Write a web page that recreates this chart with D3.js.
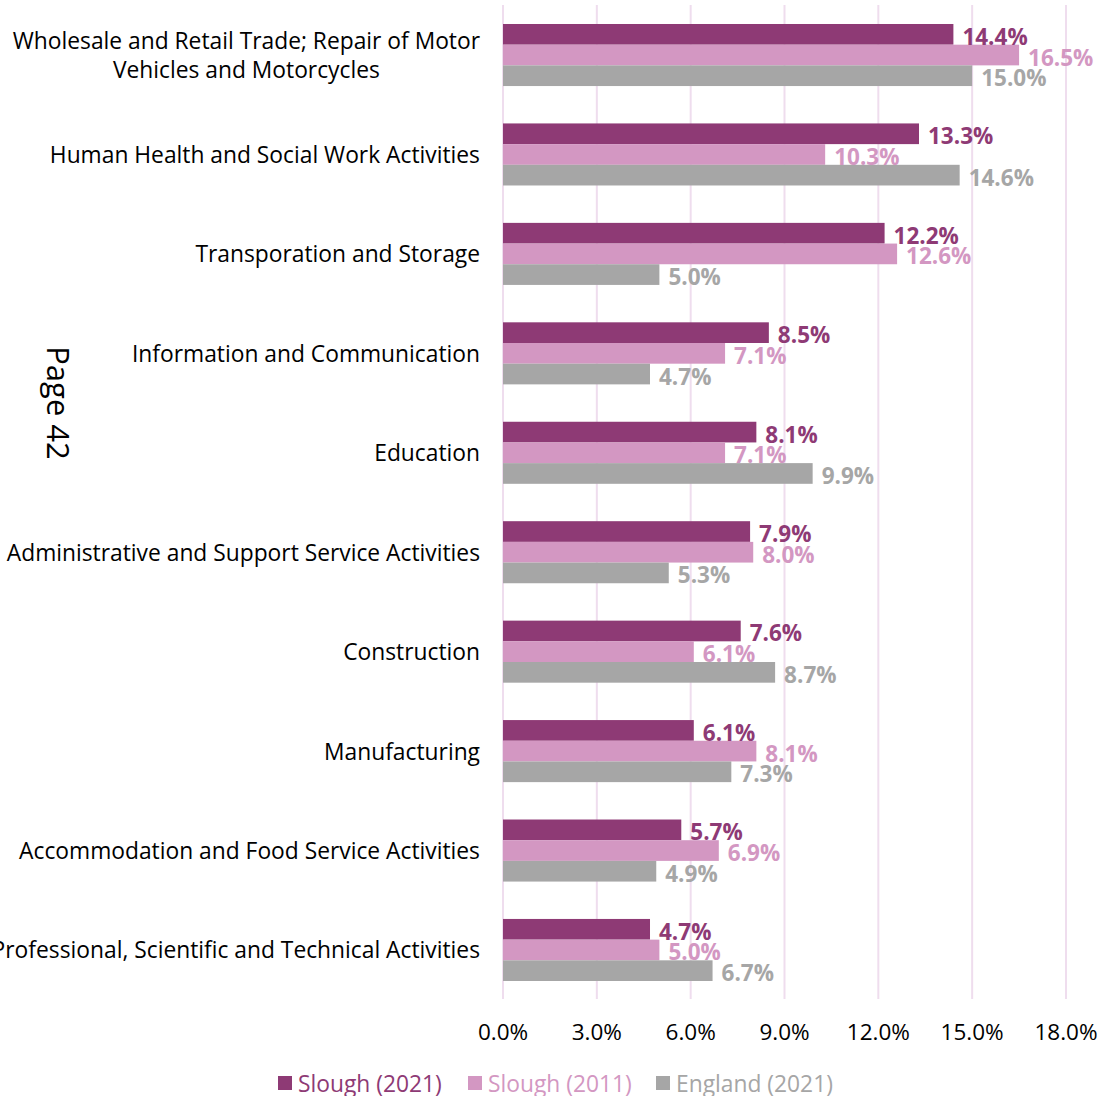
<!DOCTYPE html>
<html>
<head>
<meta charset="utf-8">
<script src="https://cdn.jsdelivr.net/npm/d3@7"></script>
<style>
  html, body { margin: 0; padding: 0; background: #fff; }
  svg { display: block; }
  text { font-family: "Open Sans", "Noto Sans", sans-serif; }
</style>
</head>
<body>
<svg id="chart" width="1100" height="1096"></svg>
<script>
// Industry categories (top to bottom)
const categories = [
  ["Wholesale and Retail Trade; Repair of Motor", "Vehicles and Motorcycles"],
  ["Human Health and Social Work Activities"],
  ["Transporation and Storage"],
  ["Information and Communication"],
  ["Education"],
  ["Administrative and Support Service Activities"],
  ["Construction"],
  ["Manufacturing"],
  ["Accommodation and Food Service Activities"],
  ["Professional, Scientific and Technical Activities"]
];
const seriesNames = ["Slough (2021)", "Slough (2011)", "England (2021)"];
const slough2021 = [14.4, 13.3, 12.2, 8.5, 8.1, 7.9, 7.6, 6.1, 5.7, 4.7];
const slough2011 = [16.5, 10.3, 12.6, 7.1, 7.1, 8.0, 6.1, 8.1, 6.9, 5.0];
const england2021 = [15.0, 14.6, 5.0, 4.7, 9.9, 5.3, 8.7, 7.3, 4.9, 6.7];
const tickValues = [0, 3, 6, 9, 12, 15, 18];
const colors = ["#8E3A75", "#D397C2", "#A6A6A6"];

const series = [slough2021, slough2011, england2021];
const keys = categories.map((c, i) => i);

const svg = d3.select("#chart");

const x = d3.scaleLinear().domain([0, 18]).range([503, 1066]);
const y = d3.scaleBand().domain(keys).range([5.3, 999.7]).paddingInner(0.376).paddingOuter(0.188);
const ySub = d3.scaleBand().domain([0, 1, 2]).range([0, y.bandwidth()]);

// Vertical gridlines
svg.append("g")
  .selectAll("line")
  .data(tickValues)
  .join("line")
  .attr("x1", d => x(d)).attr("x2", d => x(d))
  .attr("y1", 5).attr("y2", 999)
  .attr("stroke", "#EFDDEE")
  .attr("stroke-width", 2);

// Bars
const groups = svg.append("g")
  .selectAll("g")
  .data(keys)
  .join("g")
  .attr("transform", d => `translate(0,${y(d)})`);

groups.selectAll("rect")
  .data(i => series.map((s, j) => ({ j, v: s[i] })))
  .join("rect")
  .attr("x", x(0))
  .attr("y", d => ySub(d.j))
  .attr("width", d => x(d.v) - x(0))
  .attr("height", ySub.bandwidth())
  .attr("fill", d => colors[d.j]);

// Value labels
groups.selectAll("text.val")
  .data(i => series.map((s, j) => ({ j, v: s[i] })))
  .join("text")
  .attr("class", "val")
  .attr("x", d => x(d.v) + 9)
  .attr("y", d => ySub(d.j) + ySub.bandwidth() / 2 + 2)
  .attr("dominant-baseline", "central")
  .attr("font-size", 22.5)
  .attr("font-weight", "bold")
  .attr("fill", d => colors[d.j])
  .text(d => d.v.toFixed(1) + "%");

// Category labels: right-aligned block, wrapped lines centred on each other
const catG = svg.append("g");
categories.forEach((lines, i) => {
  const cy = y(i) + y.bandwidth() / 2;
  const lh = 29;
  const t = catG.append("text")
    .attr("font-size", 22.8)
    .attr("fill", "#000");
  const spans = lines.map((ln, k) => t.append("tspan")
    .attr("y", cy + (k - (lines.length - 1) / 2) * lh)
    .attr("dominant-baseline", "central")
    .text(ln));
  const widths = spans.map(s => s.node().getComputedTextLength());
  const maxW = d3.max(widths);
  const centre = 480 - maxW / 2;
  spans.forEach((s, k) => s.attr("x", centre - widths[k] / 2));
});

// X axis tick labels
svg.append("g")
  .selectAll("text")
  .data(tickValues)
  .join("text")
  .attr("x", d => x(d))
  .attr("y", 1031)
  .attr("text-anchor", "middle")
  .attr("dominant-baseline", "central")
  .attr("font-size", 22.5)
  .attr("fill", "#000")
  .text(d => d.toFixed(1) + "%");

// Legend
const legendX = [278, 468, 656];
const leg = svg.append("g");
seriesNames.forEach((n, j) => {
  leg.append("rect")
    .attr("x", legendX[j]).attr("y", 1076)
    .attr("width", 14).attr("height", 14)
    .attr("fill", colors[j]);
  leg.append("text")
    .attr("x", legendX[j] + 20).attr("y", 1083)
    .attr("dominant-baseline", "central")
    .attr("font-size", 22.8)
    .attr("fill", colors[j])
    .text(n);
});

// Page marker
svg.append("text")
  .attr("transform", "translate(47,403) rotate(90)")
  .attr("text-anchor", "middle")
  .attr("font-family", "Liberation Sans, Arial, sans-serif")
  .attr("font-size", 31)
  .attr("fill", "#000")
  .text("Page 42");
</script>
</body>
</html>
